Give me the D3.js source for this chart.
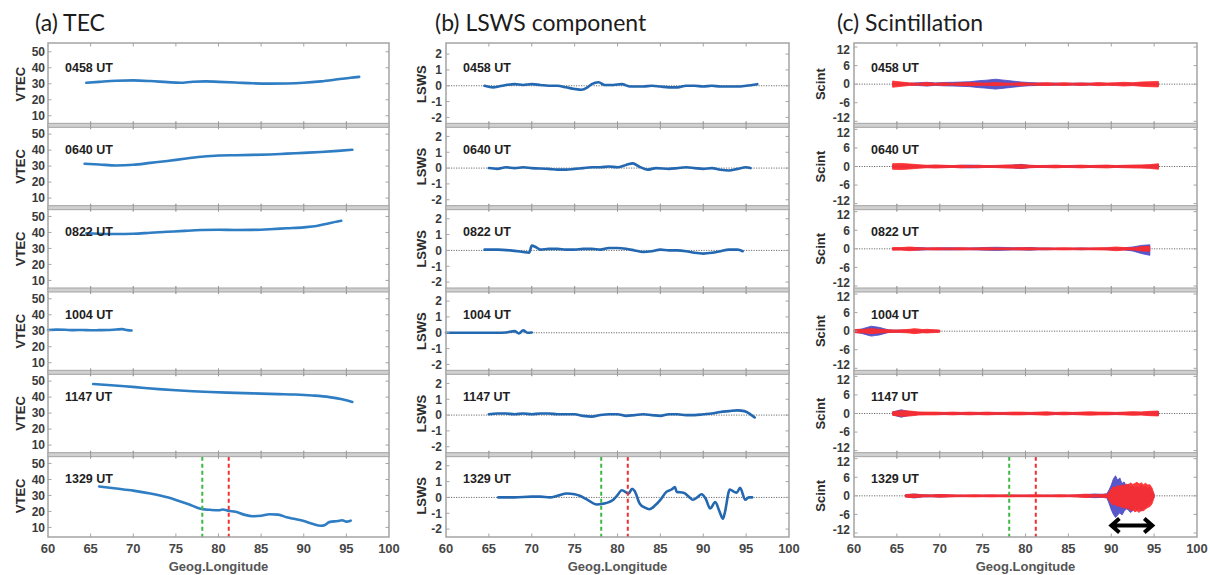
<!DOCTYPE html>
<html>
<head>
<meta charset="utf-8">
<script src="https://cdn.jsdelivr.net/npm/d3@7"></script>
<style>
  body { margin: 0; background: #fff; }
  svg { display: block; }
</style>
</head>
<body>
<svg id="fig" width="1210" height="575"></svg>
<script>
// ---- pass times (one row of panels per pass) ----
const passTimes = ["0458 UT", "0640 UT", "0822 UT", "1004 UT", "1147 UT", "1329 UT"];
const lonTicks = [60, 65, 70, 75, 80, 85, 90, 95, 100];
const vtecTicks = [10, 20, 30, 40, 50];
const lswsTicks = [-2, -1, 0, 1, 2];
const scintTicks = [-12, -6, 0, 6, 12];

// reference longitudes marked in the last pass
const markerGreenLon = 78.1;
const markerRedLon = 81.2;
// longitude span of the strong scintillation patch (arrow) and its level
const patchSpan = [89.9, 94.9];
const patchLevel = -9.6;

// ---- VTEC profiles: [longitude, TECU] ----
const vtec0458 = [[64.5,30.6],[66,31.2],[68,31.9],[70,32.1],[72,31.7],[74,31.0],[75.5,30.6],[77,31.3],[78.5,31.5],[80,31.2],[82,30.8],[84,30.3],[86,30.1],[88,30.2],[90,30.6],[92,31.5],[94,32.8],[95.5,33.8],[96.5,34.3]];
const vtec0640 = [[64.3,31.5],[66,31.0],[68,30.4],[70,30.8],[72,32.0],[74,33.2],[76,34.6],[78,35.8],[80,36.6],[82,36.8],[84,37.0],[86,37.3],[88,37.8],[90,38.3],[92,38.8],[94,39.5],[95.7,40.2]];
const vtec0822 = [[64.5,39.5],[66,39.2],[68,39.0],[70,39.2],[72,39.8],[74,40.4],[76,41.0],[78,41.5],[80,41.7],[82,41.5],[84,41.6],[86,42.0],[88,42.6],[90,43.2],[91.5,44.0],[93,45.8],[94.4,47.3]];
const vtec1004 = [[60,30.5],[61,30.7],[62,30.6],[63,30.4],[64,30.5],[65,30.3],[66,30.4],[67,30.5],[68,30.8],[68.7,31.0],[69.3,30.4],[69.8,30.2]];
const vtec1147 = [[65.3,48.2],[67,47.6],[69,46.8],[71,45.9],[73,45.0],[75,44.3],[77,43.7],[79,43.2],[81,42.8],[83,42.5],[85,42.2],[87,41.9],[89,41.6],[91,41.0],[93,40.0],[94.5,38.6],[95.7,37.0]];
const vtec1329 = [[66,35.6],[68,34.3],[70,33.0],[72,31.2],[74,28.8],[75,27.2],[76.5,24.5],[78,21.5],[79,21.0],[80,20.7],[80.5,21.2],[81.2,20.4],[82,19.8],[83,18.0],[84,17.0],[85,17.3],[86,18.2],[87,18.0],[88,16.3],[89,15.2],[90,14.0],[91,12.3],[92,11.0],[92.5,11.5],[93,13.3],[94,14.0],[94.5,14.5],[95,13.6],[95.5,14.2]];

// ---- LSWS component: [longitude, value] ----
const lsws0458 = [[64.5,0],[65.5,-0.1],[67,0.05],[68,0.1],[69,0.05],[70,0.1],[71,0.05],[72,0],[73,0],[74,-0.1],[75,-0.2],[75.8,-0.25],[76.5,-0.1],[77,0.1],[77.8,0.22],[78.5,0.05],[79.5,0.05],[80.5,0.1],[81.5,-0.05],[83,-0.05],[84,0],[85,-0.05],[86,-0.1],[87,-0.1],[88,0],[89,0],[90,-0.05],[91,0],[92,-0.05],[93,-0.05],[94,-0.05],[95,0],[96.3,0.1]];
const lsws0640 = [[65,0],[66,-0.05],[67,0.05],[68,0],[69,0.05],[70,0],[72,-0.05],[73,-0.1],[74,-0.1],[75,-0.05],[76,0],[77,0.05],[78,0.05],[79,0.1],[80,0.05],[81,0.2],[81.8,0.3],[82.5,0.1],[83.5,-0.1],[84.5,0],[86,-0.05],[87,0],[88,0.05],[89,0],[90,-0.05],[91,0],[92,-0.1],[93,-0.15],[94,-0.05],[95,0.05],[95.5,0]];
const lsws0822 = [[64.5,0.05],[66,0.05],[67.5,0],[69,-0.1],[69.7,-0.15],[70,0.3],[70.5,0.2],[71,0.05],[72,0.1],[73,0.1],[74,0.05],[75,0.05],[76,0.1],[77,0.1],[78,0.05],[79,0.15],[80,0.15],[81,0.1],[82,0],[83,-0.1],[84,-0.05],[85,0.05],[86,0],[87,0],[88,-0.05],[89,-0.15],[90,-0.2],[91,-0.15],[92,-0.05],[93,0.05],[94,0.05],[94.6,-0.05]];
const lsws1004 = [[60,0],[62,0],[64,0],[66,0],[67,0.02],[68,0.1],[68.5,-0.05],[69,0.15],[69.5,0],[70,0.02]];
const lsws1147 = [[65,0.05],[66,0.1],[67,0.1],[68,0.05],[69,0.1],[70,0.05],[71,0.1],[72,0.1],[73,0.05],[74,0.05],[75,0.05],[76,-0.05],[77,-0.1],[78,0],[79,0.05],[80,0.05],[81,-0.05],[82,0],[83,0.05],[84,0],[85,-0.05],[86,0.05],[87,0.05],[88,0],[89,0],[90,0.05],[91,0.1],[92,0.2],[93,0.25],[94,0.3],[94.8,0.25],[95.5,0.05],[96,-0.15]];
const lsws1329 = [[66.1,0],[68,0],[70,0.05],[71,0.05],[72.1,0],[73,0.1],[74.1,0.25],[75,0.2],[75.6,0.1],[76.5,-0.15],[77.6,-0.45],[78.3,-0.4],[79,-0.3],[79.5,-0.15],[80,0.15],[80.5,0.45],[81.3,0.25],[81.7,0.55],[82,0.4],[82.6,-0.4],[83.2,-0.65],[83.7,-0.75],[84.4,-0.5],[85,-0.15],[85.7,0.35],[86.3,0.5],[86.7,0.65],[86.9,0.35],[87.7,0.3],[88.3,0.05],[88.8,-0.15],[89.3,0],[89.8,0.2],[90.3,-0.1],[90.8,-0.7],[91.4,-0.3],[91.9,-0.9],[92.3,-1.35],[92.5,-1.0],[93.1,0.5],[93.6,0.35],[93.9,0.3],[94.3,0.6],[94.9,-0.15],[95.3,0],[95.7,0]];

// ---- scintillation envelopes (upper / lower excursion), two receivers ----
const scintLon0458 = [64.5,65.5,66.5,67.5,68.5,69.5,70.5,71.5,72.5,73.5,74.5,75.5,76.5,77.5,78.5,79.5,80.5,81.5,82.5,83.5,84.5,85.5,86.5,87.5,88.5,89.5,90.5,91.5,92.5,93.5,94.5,95.5];
const scintRed0458 = [1.0,0.7,0.4,0.3,0.5,0.3,0.4,0.3,0.45,0.5,0.4,0.35,0.5,0.35,0.3,0.45,0.3,0.35,0.45,0.3,0.45,0.3,0.4,0.3,0.5,0.35,0.45,0.6,0.45,0.7,0.8,0.9];
const scintBlue0458 = [0.3,0.35,0.3,0.45,0.6,0.4,0.55,0.6,0.7,0.8,1.1,1.3,1.6,1.3,1.0,0.7,0.5,0.4,0.35,0.35,0.3,0.3,0.35,0.3,0.3,0.25,0.3,0.3,0.35,0.35,0.3,0.35];

const scintLon0640 = scintLon0458;
const scintRed0640 = [0.9,1.0,0.8,0.6,0.4,0.5,0.4,0.3,0.45,0.3,0.4,0.3,0.35,0.45,0.5,0.6,0.4,0.3,0.35,0.45,0.3,0.35,0.45,0.3,0.4,0.45,0.3,0.4,0.45,0.5,0.6,0.9];
const scintBlue0640 = [0.35,0.45,0.5,0.35,0.3,0.35,0.3,0.3,0.35,0.45,0.35,0.3,0.3,0.35,0.45,0.7,0.35,0.3,0.3,0.3,0.3,0.3,0.3,0.3,0.3,0.35,0.3,0.3,0.35,0.35,0.45,0.6];

const scintLon0822 = [64.5,65.5,66.5,67.5,68.5,69.5,70.5,71.5,72.5,73.5,74.5,75.5,76.5,77.5,78.5,79.5,80.5,81.5,82.5,83.5,84.5,85.5,86.5,87.5,88.5,89.5,90.5,91.5,92.5,93.5,94.5];
const scintRed0822 = [0.45,0.4,0.6,0.35,0.3,0.35,0.3,0.3,0.35,0.3,0.3,0.35,0.3,0.3,0.3,0.35,0.35,0.3,0.3,0.3,0.35,0.3,0.3,0.3,0.35,0.35,0.6,0.4,0.35,0.7,0.8];
const scintBlueUp0822 = [0.2,0.3,0.35,0.45,0.3,0.3,0.35,0.35,0.3,0.3,0.35,0.45,0.5,0.45,0.35,0.35,0.45,0.3,0.3,0.2,0.2,0.2,0.3,0.2,0.2,0.3,0.3,0.35,0.6,1.1,1.3];
const scintBlueDown0822 = [0.2,0.3,0.35,0.45,0.3,0.3,0.35,0.35,0.3,0.3,0.35,0.45,0.5,0.45,0.35,0.35,0.45,0.3,0.3,0.2,0.2,0.2,0.3,0.2,0.2,0.3,0.3,0.35,0.7,1.5,2.1];

const scintLon1004 = [60,60.5,61,61.5,62,62.5,63,63.5,64,64.5,65,65.5,66,66.5,67,67.5,68,68.5,69,69.5,70];
const scintRed1004 = [0.45,0.6,0.5,0.7,0.8,0.7,0.6,0.5,0.45,0.4,0.35,0.45,0.5,0.6,0.8,0.7,0.5,0.6,0.5,0.45,0.35];
const scintBlue1004 = [0.35,0.5,0.8,1.2,1.6,1.4,1.2,0.8,0.45,0.35,0.35,0.3,0.3,0.35,0.35,0.3,0.35,0.3,0.3,0.25,0.2];

const scintLon1147 = scintLon0458;
const scintRed1147 = [0.6,0.9,0.8,0.5,0.45,0.45,0.35,0.45,0.35,0.45,0.35,0.45,0.35,0.35,0.45,0.45,0.35,0.45,0.55,0.35,0.45,0.35,0.45,0.55,0.45,0.45,0.35,0.45,0.6,0.5,0.7,0.8];
const scintBlue1147 = [0.45,1.2,0.6,0.35,0.3,0.3,0.3,0.3,0.3,0.3,0.3,0.3,0.3,0.3,0.3,0.3,0.3,0.3,0.3,0.3,0.3,0.3,0.3,0.3,0.3,0.3,0.3,0.3,0.35,0.35,0.45,0.6];

const scintLon1329 = [66,67,68,69,70,71,72,73,74,75,76,77,78,79,80,81,82,83,84,85,86,87,88,89,
  89.5,89.75,90,90.25,90.5,90.75,91,91.25,91.5,91.75,92,92.25,92.5,92.75,93,93.25,93.5,93.75,94,94.25,94.5,94.75,95];
const scintRedUp1329 = [0.45,0.55,0.35,0.3,0.45,0.35,0.3,0.3,0.35,0.3,0.35,0.3,0.35,0.3,0.3,0.35,0.3,0.3,0.35,0.3,0.35,0.55,0.35,0.45,
  0.5,1.2,2.2,3.0,2.6,3.4,3.0,3.6,3.2,3.8,3.5,4.2,3.7,4.0,4.4,3.8,4.2,3.6,4.1,3.5,3.6,2.6,0.5];
const scintRedDown1329 = [0.45,0.55,0.35,0.3,0.45,0.35,0.3,0.3,0.35,0.3,0.35,0.3,0.35,0.3,0.3,0.35,0.3,0.3,0.35,0.3,0.35,0.55,0.35,0.45,
  0.5,1.4,2.5,3.0,2.8,3.5,3.2,3.9,3.6,4.2,3.9,4.8,4.4,5.2,4.8,5.4,4.6,4.9,4.2,3.8,3.5,2.6,0.5];
const scintBlueUp1329 = [0.3,0.6,0.35,0.3,0.4,0.3,0.2,0.2,0.2,0.2,0.2,0.2,0.2,0.2,0.2,0.2,0.2,0.2,0.2,0.2,0.3,0.4,0.6,0.5,
  0.7,2.0,3.5,5.5,6.5,5.0,5.8,4.0,4.5,3.2,3.8,2.8,3.3,2.5,3.0,2.6,3.5,2.8,3.0,2.4,2.8,1.6,0.5];
const scintBlueDown1329 = [0.3,0.7,0.35,0.3,0.4,0.3,0.2,0.2,0.2,0.2,0.2,0.2,0.2,0.2,0.2,0.2,0.2,0.2,0.2,0.2,0.3,0.4,0.6,0.5,
  0.7,2.5,4.5,6.0,7.0,6.2,5.5,6.2,5.0,4.2,4.6,5.4,4.8,4.0,4.6,3.8,5.0,4.2,4.0,3.0,2.5,1.6,0.5];

// ---- assemble per-panel series ----
const tecSeries = [vtec0458, vtec0640, vtec0822, vtec1004, vtec1147, vtec1329];
const lswsSeries = [lsws0458, lsws0640, lsws0822, lsws1004, lsws1147, lsws1329];
const scintSeries = [
  { lon: scintLon0458, blueUp: scintBlue0458, blueDown: scintBlue0458, redUp: scintRed0458, redDown: scintRed0458 },
  { lon: scintLon0640, blueUp: scintBlue0640, blueDown: scintBlue0640, redUp: scintRed0640, redDown: scintRed0640 },
  { lon: scintLon0822, blueUp: scintBlueUp0822, blueDown: scintBlueDown0822, redUp: scintRed0822, redDown: scintRed0822 },
  { lon: scintLon1004, blueUp: scintBlue1004, blueDown: scintBlue1004, redUp: scintRed1004, redDown: scintRed1004 },
  { lon: scintLon1147, blueUp: scintBlue1147, blueDown: scintBlue1147, redUp: scintRed1147, redDown: scintRed1147 },
  { lon: scintLon1329, blueUp: scintBlueUp1329, blueDown: scintBlueDown1329, redUp: scintRedUp1329, redDown: scintRedDown1329 }
];

// ---- layout ----
const svg = d3.select("#fig");
const panelTop = 43, panelBottom = 537;
const nRows = passTimes.length;
const rowH = (panelBottom - panelTop) / nRows;
const FRAME = "#a4a4a4";
const AXISFONT = "'Liberation Sans', Arial, sans-serif";

const columns = [
  { kind: "tec",   x0: 48,  x1: 389,  title: "(a) TEC",            titleX: 35,  yTitle: "VTEC",  yTitleX: 20,  tickLabX: 45,  domain: [4, 55.5],   ticks: vtecTicks },
  { kind: "lsws",  x0: 446, x1: 789,  title: "(b) LSWS component", titleX: 435, yTitle: "LSWS",  yTitleX: 421, tickLabX: 442, domain: [-2.5, 2.7], ticks: lswsTicks },
  { kind: "scint", x0: 854, x1: 1197, title: "(c) Scintillation",  titleX: 837, yTitle: "Scint", yTitleX: 820, tickLabX: 850, domain: [-13.3, 13.3], ticks: scintTicks }
];

// vertical placement of tick labels; the outermost scintillation labels sit
// against the panel edges, so they are nudged inward a little
function tickDy(col, t) {
  if (col.kind === "scint" && t === 12) return "0.62em";
  if (col.kind === "scint" && t === -12) return "0.08em";
  return "0.36em";
}

columns.forEach(col => {
  const g = svg.append("g");
  const x = d3.scaleLinear().domain([60, 100]).range([col.x0, col.x1]);

  // column heading
  g.append("text")
    .attr("x", col.titleX).attr("y", 31)
    .attr("font-family", "Lato, 'Open Sans', sans-serif")
    .attr("font-size", 23).attr("fill", "#1c1c1c")
    .text(col.title);

  for (let r = 0; r < nRows; r++) {
    const top = panelTop + r * rowH, bot = top + rowH;
    const y = d3.scaleLinear().domain(col.domain).range([bot, top]);
    const pg = g.append("g");

    // zero reference
    if (col.kind !== "tec") {
      pg.append("line")
        .attr("x1", col.x0).attr("x2", col.x1)
        .attr("y1", y(0)).attr("y2", y(0))
        .attr("stroke", "#6e6e6e").attr("stroke-width", 1)
        .attr("stroke-dasharray", "1.2,1.3");
    }

    // data
    if (col.kind === "tec" || col.kind === "lsws") {
      const series = col.kind === "tec" ? tecSeries[r] : lswsSeries[r];
      const line = d3.line().x(d => x(d[0])).y(d => y(d[1])).curve(d3.curveMonotoneX);
      pg.append("path")
        .attr("d", line(series))
        .attr("fill", "none")
        .attr("stroke", col.kind === "tec" ? "#2f7dc3" : "#2368b0")
        .attr("stroke-width", 2.6)
        .attr("stroke-linejoin", "round").attr("stroke-linecap", "round");
    } else {
      const s = scintSeries[r];
      const idx = d3.range(s.lon.length);
      const band = (up, down) => d3.area()
        .x(i => x(s.lon[i]))
        .y0(i => y(-down[i]))
        .y1(i => y(up[i]))
        .curve(d3.curveLinear)(idx);
      pg.append("path").attr("d", band(s.blueUp, s.blueDown))
        .attr("fill", "#4646c4").attr("fill-opacity", 0.9)
        .attr("stroke", "#4646c4").attr("stroke-width", 0.8);
      pg.append("path").attr("d", band(s.redUp, s.redDown))
        .attr("fill", "#ff2a2a").attr("fill-opacity", 0.92)
        .attr("stroke", "#ff2a2a").attr("stroke-width", 0.8);
    }

    // marked longitudes in the last pass
    if (r === nRows - 1) {
      [[markerGreenLon, "#3cb843"], [markerRedLon, "#f03030"]].forEach(([lon, c]) => {
        pg.append("line")
          .attr("x1", x(lon)).attr("x2", x(lon))
          .attr("y1", top + 2).attr("y2", bot)
          .attr("stroke", c).attr("stroke-width", 2)
          .attr("stroke-dasharray", "4,3");
      });
      if (col.kind === "scint") {
        const ax0 = x(patchSpan[0]), ax1 = x(patchSpan[1]), ay = y(patchLevel);
        const head = 9, half = 7;
        pg.append("path")
          .attr("d", `M${ax0 + 2},${ay}L${ax1 - 2},${ay}` +
                     `M${ax0 + head},${ay - half}L${ax0 + 1},${ay}L${ax0 + head},${ay + half}` +
                     `M${ax1 - head},${ay - half}L${ax1 - 1},${ay}L${ax1 - head},${ay + half}`)
          .attr("fill", "none").attr("stroke", "#000")
          .attr("stroke-width", 4).attr("stroke-linejoin", "miter").attr("stroke-linecap", "butt");
      }
    }

    // tick marks (inside the frame, all four sides)
    lonTicks.slice(1, -1).forEach(t => {
      pg.append("line").attr("x1", x(t)).attr("x2", x(t)).attr("y1", top).attr("y2", top + 3.5)
        .attr("stroke", FRAME).attr("stroke-width", 1);
      pg.append("line").attr("x1", x(t)).attr("x2", x(t)).attr("y1", bot - 3.5).attr("y2", bot)
        .attr("stroke", FRAME).attr("stroke-width", 1);
    });
    col.ticks.forEach(t => {
      pg.append("line").attr("x1", col.x0).attr("x2", col.x0 + 3.5).attr("y1", y(t)).attr("y2", y(t))
        .attr("stroke", FRAME).attr("stroke-width", 1);
      pg.append("line").attr("x1", col.x1 - 3.5).attr("x2", col.x1).attr("y1", y(t)).attr("y2", y(t))
        .attr("stroke", FRAME).attr("stroke-width", 1);
    });

    // y tick labels
    pg.selectAll("text.ytl").data(col.ticks).join("text")
      .attr("class", "ytl")
      .attr("x", col.tickLabX).attr("y", t => y(t)).attr("dy", t => tickDy(col, t))
      .attr("text-anchor", "end")
      .attr("font-family", AXISFONT).attr("font-weight", "bold")
      .attr("font-size", 12).attr("fill", "#3a3a3a")
      .text(t => t);

    // y axis title
    pg.append("text")
      .attr("transform", `translate(${col.yTitleX + 4.5},${(top + bot) / 2}) rotate(-90)`)
      .attr("text-anchor", "middle")
      .attr("font-family", AXISFONT).attr("font-weight", "bold")
      .attr("font-size", 13).attr("fill", "#2c2c2c")
      .text(col.yTitle);

    // pass time label
    pg.append("text")
      .attr("x", col.x0 + 17).attr("y", top + 28.5)
      .attr("font-family", AXISFONT).attr("font-weight", "bold")
      .attr("font-size", 12.5).attr("fill", "#1e1e1e")
      .text(passTimes[r]);
  }

  // outer frame and separators between panels
  g.append("rect")
    .attr("x", col.x0).attr("y", panelTop)
    .attr("width", col.x1 - col.x0).attr("height", panelBottom - panelTop)
    .attr("fill", "none").attr("stroke", FRAME).attr("stroke-width", 1.5);
  for (let r = 1; r < nRows; r++) {
    const yb = panelTop + r * rowH;
    g.append("rect")
      .attr("x", col.x0).attr("y", yb - 2)
      .attr("width", col.x1 - col.x0).attr("height", 4)
      .attr("fill", "#d0d0d0").attr("stroke", FRAME).attr("stroke-width", 1);
    lonTicks.slice(1, -1).forEach(t => {
      g.append("line").attr("x1", x(t)).attr("x2", x(t)).attr("y1", yb - 4).attr("y2", yb + 4)
        .attr("stroke", "#999").attr("stroke-width", 1);
    });
  }

  // longitude axis labels
  g.selectAll("text.xtl").data(lonTicks).join("text")
    .attr("class", "xtl")
    .attr("x", t => x(t)).attr("y", 553)
    .attr("text-anchor", "middle")
    .attr("font-family", AXISFONT).attr("font-weight", "bold")
    .attr("font-size", 13).attr("fill", "#474747")
    .text(t => t);
  g.append("text")
    .attr("x", (col.x0 + col.x1) / 2).attr("y", 571)
    .attr("text-anchor", "middle")
    .attr("font-family", AXISFONT).attr("font-weight", "bold")
    .attr("font-size", 13).attr("fill", "#555")
    .text("Geog.Longitude");
});
</script>
</body>
</html>
